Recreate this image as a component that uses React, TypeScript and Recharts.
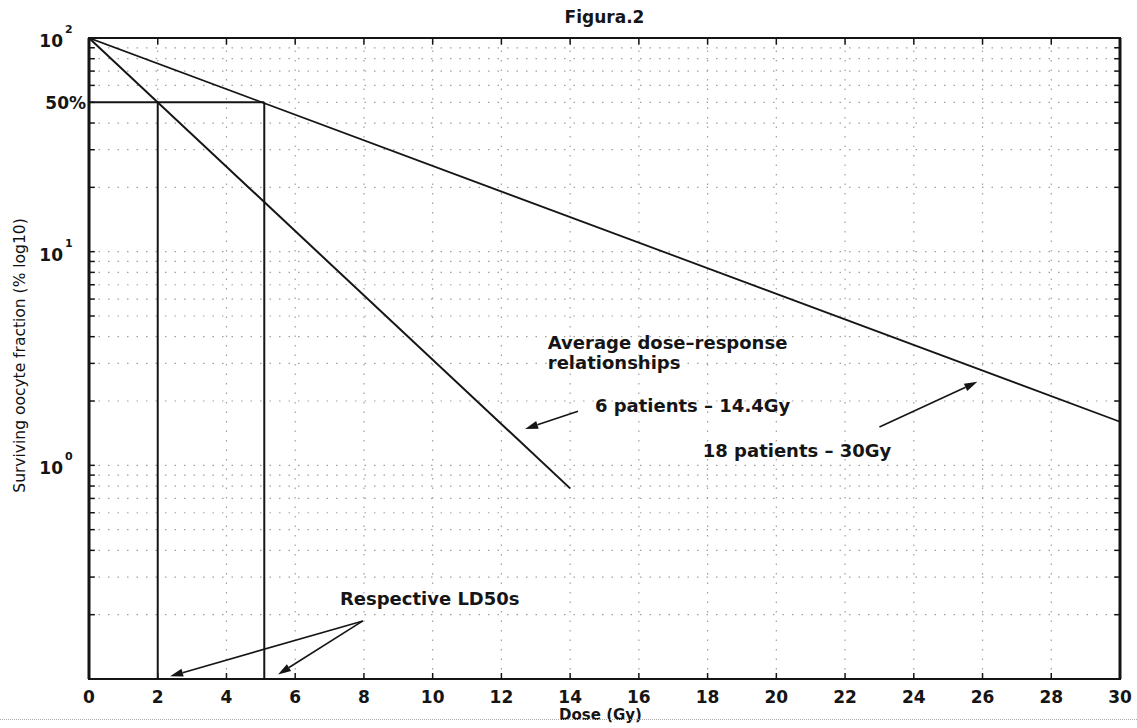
import React from 'react';
import { LineChart, Line, XAxis, YAxis, ReferenceLine, ReferenceArea, ReferenceDot, Label } from 'recharts';

// dose axis (Gy) and log fraction axis (%)
const doseTicks = [0, 2, 4, 6, 8, 10, 12, 14, 16, 18, 20, 22, 24, 26, 28, 30];
const fractionTicks = [1, 10, 50, 100];
const logGrid = [0.2, 0.3, 0.4, 0.5, 0.6, 0.7, 0.8, 0.9, 1, 2, 3, 4, 5, 6, 7, 8, 9, 10, 20, 30, 40, 50, 60, 70, 80, 90];

// average dose-response relationships
const doses6 = [0, 14];
const fractions6 = [100, 0.78];
const doses18 = [0, 30];
const fractions18 = [100, 1.6];

// LD50 guides
const ld50Doses = [2, 5.1];
const ld50Level = 50;

// annotation arrows [dose, fraction]
const arrowFrom = [[14.23, 1.79], [23.0, 1.51], [7.97, 0.187], [7.97, 0.187]];
const arrowTo = [[12.69, 1.48], [25.85, 2.46], [2.36, 0.103], [5.5, 0.105]];

// annotation texts, anchored at baseline-left
const noteTexts = ['Average dose\u2013response', 'relationships', '6 patients \u2013 14.4Gy', '18 patients \u2013 30Gy', 'Respective LD50s'];
const noteDoses = [13.35, 13.35, 14.72, 17.86, 7.3];
const noteFractions = [3.52, 2.83, 1.78, 1.09, 0.222];

const series6 = doses6.map((d, i) => ({ dose: d, fraction: fractions6[i] }));
const series18 = doses18.map((d, i) => ({ dose: d, fraction: fractions18[i] }));

const FONT = '"DejaVu Sans", sans-serif';
const INK = '#151515';

const DoseTick = (props: any) => {
  const { x, y, payload } = props;
  return (
    <g>
      <line x1={x} y1={y} x2={x} y2={y - 6} stroke={INK} strokeWidth={1.5} />
      <text x={x} y={y + 24} textAnchor="middle" fontFamily={FONT} fontWeight="bold" fontSize={17} fill={INK}>
        {payload.value}
      </text>
    </g>
  );
};

const FractionTick = (props: any) => {
  const { x, y, payload } = props;
  if (payload.value === 50) {
    return (
      <text x={x - 3} y={y + 7} textAnchor="end" fontFamily={FONT} fontWeight="bold" fontSize={17} fill={INK}>
        50%
      </text>
    );
  }
  const exp = Math.round(Math.log10(payload.value));
  return (
    <g fontFamily={FONT} fontWeight="bold" fill={INK}>
      <text x={x - 26} y={y + 9} textAnchor="end" fontSize={17}>10</text>
      <text x={x - 24} y={y - 5} textAnchor="start" fontSize={11}>{exp}</text>
    </g>
  );
};

const Arrow = (props: any) => {
  const { x1, y1, x2, y2 } = props;
  const ang = Math.atan2(y2 - y1, x2 - x1);
  const len = 13;
  const half = 4;
  const bx = x2 - len * Math.cos(ang);
  const by = y2 - len * Math.sin(ang);
  const px = -Math.sin(ang) * half;
  const py = Math.cos(ang) * half;
  return (
    <g>
      <line x1={x1} y1={y1} x2={bx} y2={by} stroke={INK} strokeWidth={1.6} />
      <polygon points={`${x2},${y2} ${bx + px},${by + py} ${bx - px},${by - py}`} fill={INK} />
    </g>
  );
};

const gridStyle = { stroke: '#a0a0a0', strokeWidth: 1.2, strokeDasharray: '1.5 8' };

export default function App() {
  return (
    <div style={{ position: 'absolute', left: 0, top: 0, width: 1137, height: 728, background: '#fff' }}>
      <LineChart width={1137} height={728} margin={{ top: 38, right: 17, bottom: 0, left: 0 }}>
        <XAxis
          dataKey="dose"
          type="number"
          domain={[0, 30]}
          ticks={doseTicks}
          interval={0}
          height={49}
          tickSize={0}
          tickMargin={0}
          tick={<DoseTick />}
          axisLine={{ stroke: INK, strokeWidth: 2 }}
          tickLine={false}
        >
          <Label
            content={(p: any) => (
              <text
                x={p.viewBox.x + p.viewBox.width / 2 - 4}
                y={p.viewBox.y + 41}
                textAnchor="middle"
                fontFamily={FONT}
                fontWeight="bold"
                fontSize={15}
                fill={INK}
              >
                Dose (Gy)
              </text>
            )}
          />
        </XAxis>
        <YAxis
          dataKey="fraction"
          type="number"
          scale="log"
          domain={[0.1, 100]}
          allowDataOverflow
          ticks={fractionTicks}
          interval={0}
          width={89}
          tickSize={0}
          tickMargin={0}
          tick={<FractionTick />}
          axisLine={{ stroke: INK, strokeWidth: 3 }}
          tickLine={false}
        >
          <Label
            content={(p: any) => {
              const cx = p.viewBox.x + 20;
              const cy = p.viewBox.y + p.viewBox.height / 2 - 3;
              return (
                <text
                  x={cx}
                  y={cy}
                  transform={`rotate(-90 ${cx} ${cy})`}
                  textAnchor="middle"
                  dominantBaseline="central"
                  fontFamily={FONT}
                  fontSize={15.5}
                  fill="#111"
                  stroke="none"
                >
                  Surviving oocyte fraction (% log10)
                </text>
              );
            }}
          />
        </YAxis>

        {logGrid.map((v) => (
          <ReferenceLine key={`h${v}`} y={v} {...gridStyle} />
        ))}
        {doseTicks.slice(1, -1).map((d) => (
          <ReferenceLine key={`v${d}`} x={d} {...gridStyle} />
        ))}
        {doseTicks.slice(1, -1).map((d) => (
          <ReferenceLine key={`t${d}`} segment={[{ x: d, y: 100 }, { x: d, y: 93 }]} stroke={INK} strokeWidth={1.5} />
        ))}
        {logGrid.map((v) => (
          <ReferenceLine key={`l${v}`} segment={[{ x: 0, y: v }, { x: 0.17, y: v }]} stroke={INK} strokeWidth={1.5} />
        ))}
        {logGrid.map((v) => (
          <ReferenceLine key={`r${v}`} segment={[{ x: 29.83, y: v }, { x: 30, y: v }]} stroke={INK} strokeWidth={1.5} />
        ))}

        <ReferenceArea x1={0} x2={30} y1={0.1} y2={100} fill="none" stroke={INK} strokeWidth={2} />
        <ReferenceLine x={30} stroke={INK} strokeWidth={3} />

        <ReferenceLine segment={[{ x: 0, y: ld50Level }, { x: ld50Doses[1], y: ld50Level }]} stroke={INK} strokeWidth={2} />
        {ld50Doses.map((d) => (
          <ReferenceLine key={`ld${d}`} segment={[{ x: d, y: ld50Level }, { x: d, y: 0.1 }]} stroke={INK} strokeWidth={2} />
        ))}

        <Line data={series6} dataKey="fraction" type="linear" stroke={INK} strokeWidth={2} dot={false} isAnimationActive={false} />
        <Line data={series18} dataKey="fraction" type="linear" stroke={INK} strokeWidth={1.8} dot={false} isAnimationActive={false} />

        {arrowFrom.map((f, i) => (
          <ReferenceLine
            key={`a${i}`}
            segment={[{ x: f[0], y: f[1] }, { x: arrowTo[i][0], y: arrowTo[i][1] }]}
            shape={<Arrow />}
          />
        ))}

        {noteTexts.map((t, i) => (
          <ReferenceDot
            key={`n${i}`}
            x={noteDoses[i]}
            y={noteFractions[i]}
            r={0}
            shape={(p: any) => (
              <text x={p.cx} y={p.cy} fontFamily={FONT} fontWeight="bold" fontSize={18} fill={INK}>
                {t}
              </text>
            )}
          />
        ))}

        <ReferenceDot
          x={15}
          y={100}
          r={0}
          shape={(p: any) => (
            <text x={p.cx} y={p.cy - 15} textAnchor="middle" fontFamily={FONT} fontWeight="bold" fontSize={17} fill={INK}>
              Figura.2
            </text>
          )}
        />
      </LineChart>
      <div style={{ position: 'absolute', left: 0, top: 719, width: 1137, borderTop: '1px dotted #aaa' }} />
    </div>
  );
}
